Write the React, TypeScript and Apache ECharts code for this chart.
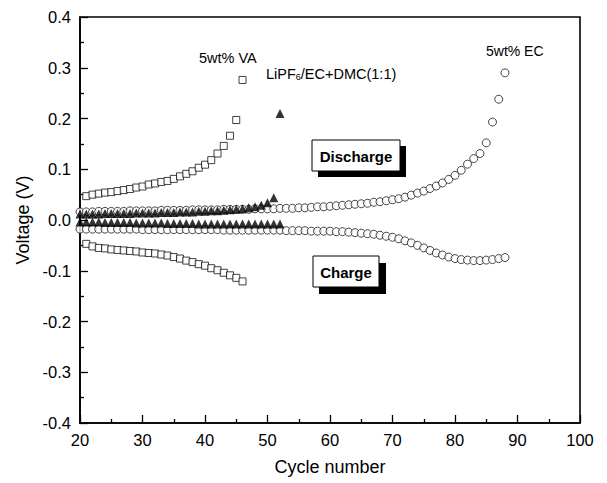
import React, { useEffect, useRef } from "react";
import * as echarts from "echarts";

// VA (5wt%) — cycles 21..46
const vaCycles = [21,22,23,24,25,26,27,28,29,30,31,32,33,34,35,36,37,38,39,40,41,42,43,44,45,46];
const vaDischarge = [0.047,0.050,0.052,0.054,0.055,0.057,0.059,0.061,0.064,0.066,0.070,0.072,0.075,0.077,0.081,0.086,0.091,0.096,0.103,0.109,0.118,0.131,0.146,0.166,0.197,0.276];
const vaCharge = [-0.047,-0.052,-0.055,-0.056,-0.058,-0.059,-0.060,-0.061,-0.062,-0.064,-0.065,-0.066,-0.068,-0.070,-0.073,-0.076,-0.080,-0.083,-0.087,-0.090,-0.095,-0.099,-0.104,-0.109,-0.114,-0.121];

// LiPF6/EC+DMC baseline — cycles 20..52
const baseCycles = [20,21,22,23,24,25,26,27,28,29,30,31,32,33,34,35,36,37,38,39,40,41,42,43,44,45,46,47,48,49,50,51,52];
const baseDischarge = [0.012,0.012,0.012,0.012,0.013,0.013,0.013,0.013,0.013,0.014,0.014,0.014,0.014,0.015,0.015,0.015,0.016,0.016,0.016,0.017,0.017,0.018,0.018,0.019,0.020,0.021,0.022,0.024,0.026,0.029,0.034,0.044,0.210];
const baseCharge = [-0.004,-0.004,-0.004,-0.004,-0.005,-0.005,-0.005,-0.005,-0.005,-0.006,-0.006,-0.006,-0.006,-0.006,-0.007,-0.007,-0.007,-0.007,-0.007,-0.008,-0.008,-0.008,-0.008,-0.008,-0.008,-0.008,-0.008,-0.008,-0.008,-0.008,-0.008,-0.008,-0.008];

// EC (5wt%) — cycles 20..88
const ecCycles = [20,21,22,23,24,25,26,27,28,29,30,31,32,33,34,35,36,37,38,39,40,41,42,43,44,45,46,47,48,49,50,51,52,53,54,55,56,57,58,59,60,61,62,63,64,65,66,67,68,69,70,71,72,73,74,75,76,77,78,79,80,81,82,83,84,85,86,87,88];
const ecDischarge = [
  0.016,0.016,0.016,0.017,0.017,0.017,0.017,0.017,0.018,0.018,
  0.018,0.018,0.018,0.019,0.019,0.019,0.019,0.019,0.020,0.020,
  0.020,0.020,0.020,0.021,0.021,0.021,0.021,0.021,0.022,0.022,
  0.022,0.022,0.023,0.023,0.023,0.024,0.024,0.025,0.026,0.026,
  0.027,0.028,0.029,0.030,0.031,0.032,0.033,0.035,0.036,0.038,
  0.040,0.042,0.045,0.049,0.053,0.057,0.062,0.067,0.073,0.080,
  0.088,0.098,0.110,0.121,0.131,0.152,0.193,0.238,0.290];
const ecCharge = [
  -0.018,-0.018,-0.018,-0.018,-0.018,-0.018,-0.018,-0.018,-0.018,-0.018,
  -0.019,-0.019,-0.019,-0.019,-0.019,-0.019,-0.019,-0.019,-0.019,-0.019,
  -0.019,-0.019,-0.019,-0.020,-0.020,-0.020,-0.020,-0.020,-0.020,-0.020,
  -0.020,-0.020,-0.020,-0.021,-0.021,-0.021,-0.021,-0.022,-0.022,-0.022,
  -0.022,-0.023,-0.023,-0.024,-0.025,-0.026,-0.027,-0.028,-0.030,-0.032,
  -0.034,-0.037,-0.041,-0.045,-0.050,-0.055,-0.060,-0.065,-0.069,-0.073,
  -0.076,-0.078,-0.079,-0.080,-0.080,-0.079,-0.078,-0.076,-0.074];

const xTicks = { min: 20, max: 100, interval: 10 };
const yTicks = { min: -0.4, max: 0.4, interval: 0.1 };

const FONT = "'Liberation Sans', Arial, sans-serif";

const zip = (xs: number[], ys: number[]) => xs.map((x, i) => [x, ys[i]]);

export default function App() {
  const ref = useRef<HTMLDivElement>(null);
  useEffect(() => {
    document.body.style.margin = "0";
    const chart = echarts.init(ref.current!, null, { renderer: "svg" });
    const openCircle = { color: "#fff", borderColor: "#000", borderWidth: 0.9 };
    const openSquare = { color: "#fff", borderColor: "#111", borderWidth: 1 };
    const tri = { color: "#000" };
    const grid = { left: 80, right: 27, top: 17, bottom: 60 };
    const tickStyle = { color: "#000", width: 1.3 };
    chart.setOption({
      animation: false,
      backgroundColor: "#fff",
      grid: { ...grid, show: true, borderColor: "#000", borderWidth: 1.6, backgroundColor: "transparent" },
      xAxis: {
        type: "value",
        ...xTicks,
        name: "Cycle number",
        nameLocation: "middle",
        nameGap: 35,
        nameTextStyle: { fontFamily: FONT, fontSize: 18, color: "#000" },
        axisLine: { show: true, onZero: false, lineStyle: { color: "#000", width: 1.6 } },
        axisTick: { show: true, inside: true, length: 8, lineStyle: tickStyle },
        minorTick: { show: true, splitNumber: 2, length: 4, lineStyle: tickStyle },
        splitLine: { show: false },
        axisLabel: { fontFamily: FONT, fontSize: 16.5, color: "#000", margin: 8 },
      },
      yAxis: {
        type: "value",
        ...yTicks,
        name: "Voltage (V)",
        nameLocation: "middle",
        nameGap: 47,
        nameTextStyle: { fontFamily: FONT, fontSize: 18, color: "#000" },
        axisLine: { show: true, onZero: false, lineStyle: { color: "#000", width: 1.6 } },
        axisTick: { show: true, inside: true, length: 8, lineStyle: tickStyle },
        minorTick: { show: true, splitNumber: 2, length: 4, lineStyle: tickStyle },
        splitLine: { show: false },
        axisLabel: { fontFamily: FONT, fontSize: 16.5, color: "#000", margin: 9, formatter: (v: number) => v.toFixed(1) },
      },
      series: [
        { type: "scatter", name: "EC discharge", data: zip(ecCycles, ecDischarge), symbol: "circle", symbolSize: 8, itemStyle: openCircle },
        { type: "scatter", name: "EC charge", data: zip(ecCycles, ecCharge), symbol: "circle", symbolSize: 8, itemStyle: openCircle },
        { type: "scatter", name: "Base discharge", data: zip(baseCycles, baseDischarge), symbol: "triangle", symbolSize: 9, itemStyle: tri },
        { type: "scatter", name: "Base charge", data: zip(baseCycles, baseCharge), symbol: "triangle", symbolSize: 9, itemStyle: tri },
        { type: "scatter", name: "VA discharge", data: zip(vaCycles, vaDischarge), symbol: "rect", symbolSize: 7, itemStyle: openSquare },
        { type: "scatter", name: "VA charge", data: zip(vaCycles, vaCharge), symbol: "rect", symbolSize: 7, itemStyle: openSquare },
      ],
      graphic: [
        { type: "text", left: 199, top: 50, style: { text: "5wt% VA", font: `14.5px ${FONT}`, fill: "#000" } },
        { type: "text", left: 486, top: 44, style: { text: "5wt% EC", font: `14px ${FONT}`, fill: "#000" } },
        {
          type: "text", left: 266, top: 66,
          style: {
            text: "LiPF{sub|6}/EC+DMC(1:1)",
            font: `14.5px ${FONT}`, fill: "#000",
            rich: { sub: { fontSize: 9, fontFamily: FONT, verticalAlign: "bottom", padding: [6, 0, 0, 0] } },
          },
        },
        { type: "rect", shape: { x: 318, y: 146, width: 88, height: 31 }, style: { fill: "#000" } },
        { type: "rect", shape: { x: 312, y: 140, width: 88, height: 31 }, style: { fill: "#fff", stroke: "#000", lineWidth: 1 } },
        { type: "text", x: 356, y: 156, style: { text: "Discharge", font: `bold 15px ${FONT}`, fill: "#000", align: "center", verticalAlign: "middle" } },
        { type: "rect", shape: { x: 319, y: 263, width: 67, height: 31 }, style: { fill: "#000" } },
        { type: "rect", shape: { x: 313, y: 256, width: 66, height: 31 }, style: { fill: "#fff", stroke: "#000", lineWidth: 1 } },
        { type: "text", x: 346, y: 272, style: { text: "Charge", font: `bold 15px ${FONT}`, fill: "#000", align: "center", verticalAlign: "middle" } },
      ],
    });
    return () => chart.dispose();
  }, []);
  return <div ref={ref} style={{ width: 607, height: 483 }} />;
}
